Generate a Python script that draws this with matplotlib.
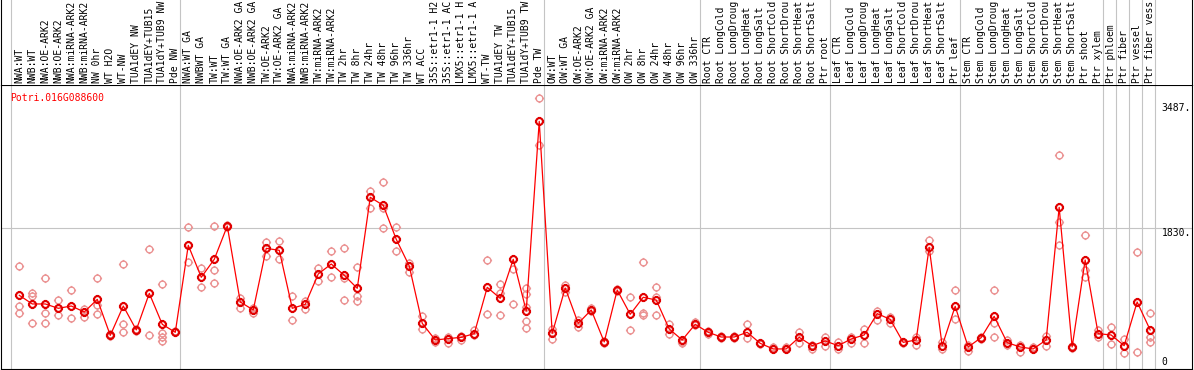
import matplotlib
matplotlib.use('Agg')
import matplotlib.pyplot as plt
from matplotlib.path import Path
import numpy as np

gene = 'Potri.016G088600'

labels = ['NWA:WT', 'NWB:WT', 'NWA:OE-ARK2', 'NWB:OE-ARK2', 'NWA:miRNA-ARK2',
          'NWB:miRNA-ARK2', 'NW 0hr', 'WT H2O', 'WT-NW', 'TUA1dEY NW',
          'TUA1dEY+TUB15', 'TUA1dY+TUB9 NW', 'Pde NW',
          'NWA:WT GA', 'NWBWT GA', 'TW:WT', 'TW:WT GA', 'NWA:OE-ARK2 GA',
          'NWB:OE-ARK2 GA', 'TW:OE-ARK2', 'TW:OE-ARK2 GA', 'NWA:miRNA-ARK2',
          'NWB:miRNA-ARK2', 'TW:miRNA-ARK2', 'TW:miRNA-ARK2', 'TW 2hr', 'TW 8hr',
          'TW 24hr', 'TW 48hr', 'TW 96hr', 'TW 336hr', 'WT ACC', '35S::etr1-1 H2',
          '35S::etr1-1 AC', 'LMX5::etr1-1 H', 'LMX5::etr1-1 A', 'WT-TW',
          'TUA1dEY TW', 'TUA1dEY+TUB15', 'TUA1dY+TUB9 TW', 'Pde TW',
          'OW:WT', 'OW:WT GA', 'OW:OE-ARK2', 'OW:OE-ARK2 GA', 'OW:miRNA-ARK2',
          'OW:miRNA-ARK2', 'OW 2hr', 'OW 8hr', 'OW 24hr', 'OW 48hr', 'OW 96hr',
          'OW 336hr',
          'Root CTR', 'Root LongCold', 'Root LongDroug', 'Root LongHeat',
          'Root LongSalt', 'Root ShortCold', 'Root ShortDrou', 'Root ShortHeat',
          'Root ShortSalt', 'Ptr root',
          'Leaf CTR', 'Leaf LongCold', 'Leaf LongDroug', 'Leaf LongHeat',
          'Leaf LongSalt', 'Leaf ShortCold', 'Leaf ShortDrou', 'Leaf ShortHeat',
          'Leaf ShortSalt', 'Ptr leaf',
          'Stem CTR', 'Stem LongCold', 'Stem LongDroug', 'Stem LongHeat',
          'Stem LongSalt', 'Stem ShortCold', 'Stem ShortDrou', 'Stem ShortHeat',
          'Stem ShortSalt', 'Ptr shoot', 'Ptr xylem',
          'Ptr phloem', 'Ptr fiber', 'Ptr vessel', 'Ptr fiber vess']

means = [950, 836, 836, 779, 809, 730, 897, 423, 809, 494, 976, 568, 463,
         1608, 1187, 1424, 1862, 862, 757, 1568, 1542, 779, 831, 1231, 1362,
         1213, 1042, 2240, 2134, 1687, 1336, 581, 362, 380, 397, 445, 1055,
         910, 1424, 744, 3240,
         450, 1046, 581, 757, 336, 1020, 700, 924, 888, 507, 362, 568,
         463, 401, 401, 463, 318, 244, 244, 397, 287, 349,
         287, 375, 428, 709, 634, 331, 362, 1582, 287, 805,
         270, 393, 673, 327, 270, 244, 362, 2108, 270, 1415, 445,
         428, 287, 862, 494]

reps = [[1336, 809, 713], [976, 941, 581], [1174, 722, 581], [888, 687],
        [1020, 647], [766, 669], [1174, 823, 700], [410, 435],
        [1362, 573, 463], [480, 505], [1555, 423], [1099, 458, 406, 353],
        [485, 463],
        [1845, 1384], [1305, 1055], [1862, 1279, 1108], [1875, 1850],
        [910, 779], [779, 722], [1652, 1472], [1665, 1424], [945, 625],
        [880, 774], [1305, 1143], [1529, 1187], [1568, 1174, 888],
        [1318, 941, 875], [2327, 2095], [2441, 2095, 1832], [1845, 1529],
        [1380, 1261], [678, 502], [384, 340], [397, 327], [415, 362],
        [494, 430], [1410, 704], [1099, 976, 687], [1292, 831],
        [1051, 967, 801, 616, 516], [3542, 2924],
        [502, 371], [1086, 998], [625, 537], [779, 740], [345, 325],
        [1029, 1010], [924, 494], [1384, 722, 687], [1055, 932, 687],
        [573, 437], [318, 340], [594, 560],
        [485, 441], [419, 390], [415, 390], [573, 384], [327, 305],
        [265, 250], [265, 250], [463, 327], [244, 290], [397, 283],
        [340, 244], [406, 327], [507, 318], [748, 625], [660, 581],
        [340, 320], [406, 296], [1678, 1538], [340, 244], [1016, 634],
        [296, 222], [406, 380], [1016, 590, 397], [362, 296], [296, 208],
        [274, 255], [415, 283], [2792, 1915, 1617], [287, 260],
        [1739, 1283, 1187], [494, 406],
        [529, 305], [371, 186], [1516, 200], [713, 406, 331]]

group_starts = [0, 13, 41, 53, 63, 73, 84, 85, 86, 87, 88]
ytick_vals = [0, 1830, 3487]
ytick_text = ['0', '1830.', '3487.']

plt.rcParams['font.family'] = 'DejaVu Sans Mono'
plt.rcParams['font.size'] = 7.0

# open circle with four little ticks
ring = Path.make_compound_path(
    Path.unit_circle(),
    Path([[0, 1], [0, 1.35]]), Path([[0, -1], [0, -1.35]]),
    Path([[1, 0], [1.35, 0]]), Path([[-1, 0], [-1.35, 0]]))

W, H = 1194, 370
fig = plt.figure(figsize=(W/100, H/100), dpi=100)
ax = fig.add_axes([1/W, 1/H, 1191/W, 284/H])
hx = fig.add_axes([1/W, 285/H, 1191/W, 85/H])

xlim = (-1.408, 90.22)
ax.set_xlim(*xlim)
ax.set_ylim(-20, 3718)
hx.set_xlim(*xlim)
hx.set_ylim(0, 85)

grey = '#c4c4c4'
for b in group_starts:
    ax.axvline(b - 0.64, color=grey, lw=0.8, zorder=0)
    hx.axvline(b - 0.64, color=grey, lw=0.8, zorder=0)
ax.axhline(1830, color=grey, lw=0.8, zorder=0)

x = np.arange(len(means))
rx = [i for i, r in enumerate(reps) for v in r]
ry = [v for r in reps for v in r]
ax.plot(rx, ry, ls='none', marker=ring, ms=6.6, mfc='none',
        mec='#eb9393', mew=1.0, zorder=2)
ax.plot(x, means, color='red', lw=0.9, marker=ring, ms=6.6, mfc='none',
        mec='#e00000', mew=1.5, zorder=3)

ax.text((9.7 - 1)/1191, 1 - 8/284, gene, transform=ax.transAxes,
        color='red', ha='left', va='top')

tx = (1162 - 19.3)/13
for v, t in zip(ytick_vals, ytick_text):
    ax.text(tx, v, t, ha='left', va='bottom' if v == 0 else 'top',
            color='black')

for i, lab in enumerate(labels):
    hx.text(i, 2, lab, rotation=90, ha='center', va='bottom', color='black')

for a in (ax, hx):
    a.set_xticks([])
    a.set_yticks([])
    for s in a.spines.values():
        s.set_color('black')
        s.set_linewidth(0.8)
hx.spines['top'].set_visible(False)
hx.spines['bottom'].set_visible(False)

fig.savefig('out.png', dpi=100)
